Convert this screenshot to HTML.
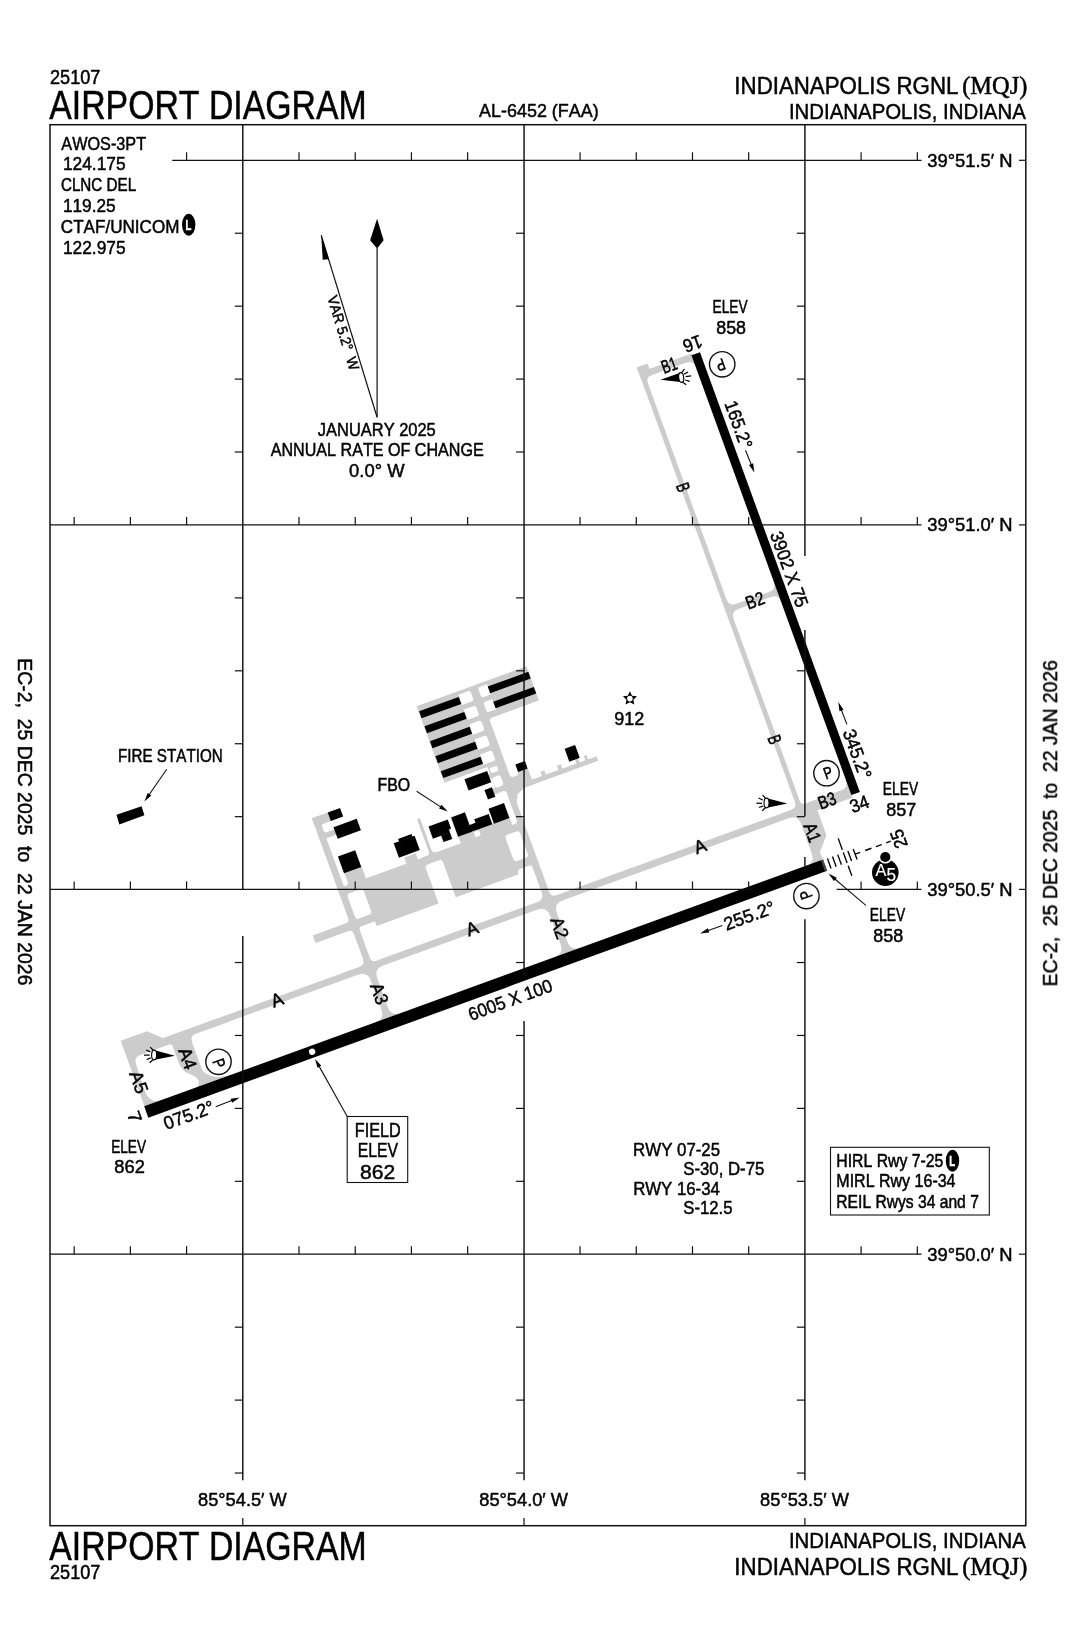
<!DOCTYPE html>
<html><head><meta charset="utf-8"><title>Airport Diagram</title>
<style>
html,body{margin:0;padding:0;background:#fff;}
svg{display:block;}
text{font-kerning:none;white-space:pre;}
</style></head><body>
<svg width="1076" height="1650" viewBox="0 0 1076 1650">
<rect x="0" y="0" width="1076" height="1650" fill="#fff"/>
<g opacity="0.999">
<g transform="translate(146.5,1111.8) rotate(-19.980)">
<rect x="30" y="-63.5" width="705" height="7" fill="#cccccc"/>
<path d="M0,-75.5 L28,-75.5 L41,-63.4 L110,-63.4 L110,-5 L0,-5 Z" fill="#cccccc"/>
<path d="M13.5,-55.6 L44.5,-55.5 Q46.9,-55.5 46.9,-53 L47.2,-32 Q48.5,-24.5 52.6,-21.7 Q58,-17.5 59.4,-13 Q60.2,-9.5 56,-4.5 L14.1,-4.5 L14.1,-5.9 Q6,-8.5 5.4,-20.2 L6.4,-47.5 Q6.6,-55.6 13.5,-55.6 Z" fill="#fff"/>
<path d="M73,-56.4 L112,-56.4 L112,-4.5 L93,-4.5 L91,-5.9 Q71,-7.5 66.6,-20 L66.6,-50 Q66.6,-56.4 73,-56.4 Z" fill="#fff"/>
<rect x="255.7" y="-219.4" width="6.8" height="214.4" fill="#cccccc"/>
<path d="M256.1,-63.1 L249.7,-63.1 L249.7,-63.5 Q255.7,-63.5 255.7,-69.5 L256.1,-69.5 Z" fill="#cccccc"/>
<path d="M262.1,-63.1 L267.5,-63.1 L267.5,-63.5 Q262.5,-63.5 262.5,-68.5 L262.1,-68.5 Z" fill="#cccccc"/>
<path d="M256.1,-56.9 L245.7,-56.9 L245.7,-56.5 Q255.7,-56.5 255.7,-46.5 L256.1,-46.5 Z" fill="#cccccc"/>
<path d="M262.1,-56.9 L272.5,-56.9 L272.5,-56.5 Q262.5,-56.5 262.5,-46.5 L262.1,-46.5 Z" fill="#cccccc"/>
<path d="M256.1,-5.5 L245.7,-5.5 L245.7,-5.9 Q255.7,-5.9 255.7,-15.9 L256.1,-15.9 Z" fill="#cccccc"/>
<path d="M262.1,-5.5 L272.5,-5.5 L272.5,-5.9 Q262.5,-5.9 262.5,-15.9 L262.1,-15.9 Z" fill="#cccccc"/>
<rect x="255.7" y="-219.4" width="24.3" height="9.1" fill="#cccccc"/>
<rect x="255.7" y="-201.2" width="19.3" height="5.7" fill="#cccccc"/>
<rect x="267.5" y="-157" width="18.5" height="14" fill="#cccccc"/>
<rect x="255.7" y="-144.3" width="90.8" height="8.3" fill="#cccccc"/>
<rect x="279.7" y="-144" width="66" height="48" fill="#cccccc"/>
<rect x="216.5" y="-109" width="64.5" height="8.2" fill="#cccccc"/>
<path d="M262.1,-136.4 L265.5,-136.4 L265.5,-136 Q262.5,-136 262.5,-133 L262.1,-133 Z" fill="#cccccc"/>
<path d="M280.1,-136.4 L276.7,-136.4 L276.7,-136 Q279.7,-136 279.7,-133 L280.1,-133 Z" fill="#cccccc"/>
<path d="M262.1,-108.6 L265.5,-108.6 L265.5,-109 Q262.5,-109 262.5,-112 L262.1,-112 Z" fill="#cccccc"/>
<path d="M280.1,-108.6 L276.7,-108.6 L276.7,-109 Q279.7,-109 279.7,-112 L280.1,-112 Z" fill="#cccccc"/>
<path d="M262.1,-143.9 L264.5,-143.9 L264.5,-144.3 Q262.5,-144.3 262.5,-146.3 L262.1,-146.3 Z" fill="#cccccc"/>
<path d="M267.9,-143.9 L265.5,-143.9 L265.5,-144.3 Q267.5,-144.3 267.5,-146.3 L267.9,-146.3 Z" fill="#cccccc"/>
<path d="M262.1,-210.7 L265,-210.7 L265,-210.3 Q262.5,-210.3 262.5,-207.8 L262.1,-207.8 Z" fill="#cccccc"/>
<path d="M262.1,-200.8 L265,-200.8 L265,-201.2 Q262.5,-201.2 262.5,-203.7 L262.1,-203.7 Z" fill="#cccccc"/>
<path d="M256.1,-108.6 L251.7,-108.6 L251.7,-109 Q255.7,-109 255.7,-113 L256.1,-113 Z" fill="#cccccc"/>
<path d="M256.1,-101.2 L251.7,-101.2 L251.7,-100.8 Q255.7,-100.8 255.7,-96.8 L256.1,-96.8 Z" fill="#cccccc"/>
<path d="M262.1,-101.2 L265.5,-101.2 L265.5,-100.8 Q262.5,-100.8 262.5,-97.8 L262.1,-97.8 Z" fill="#cccccc"/>
<rect x="345" y="-145" width="19.5" height="8.5" fill="#cccccc"/>
<rect x="364" y="-145" width="67" height="49" fill="#cccccc"/>
<rect x="387.3" y="-152.5" width="43.7" height="8" fill="#cccccc"/>
<rect x="354.2" y="-182.5" width="3.1" height="38.5" fill="#cccccc"/>
<rect x="329.2" y="-151" width="12.1" height="8" fill="#cccccc"/>
<path d="M345.6,-136.9 L349,-136.9 L349,-136.5 Q346,-136.5 346,-133.5 L345.6,-133.5 Z" fill="#cccccc"/>
<path d="M364.4,-136.9 L361,-136.9 L361,-136.5 Q364,-136.5 364,-133.5 L364.4,-133.5 Z" fill="#cccccc"/>
<path d="M356.9,-144.6 L361.3,-144.6 L361.3,-145 Q357.3,-145 357.3,-149 L356.9,-149 Z" fill="#cccccc"/>
<path d="M354.6,-143.9 L350.2,-143.9 L350.2,-144.3 Q354.2,-144.3 354.2,-148.3 L354.6,-148.3 Z" fill="#cccccc"/>
<rect x="430" y="-145" width="17" height="8" fill="#cccccc"/>
<rect x="430" y="-109.2" width="17" height="8.6" fill="#cccccc"/>
<path d="M430.6,-137.4 L434,-137.4 L434,-137 Q431,-137 431,-134 L430.6,-134 Z" fill="#cccccc"/>
<path d="M446.8,-137.4 L443.4,-137.4 L443.4,-137 Q446.4,-137 446.4,-134 L446.8,-134 Z" fill="#cccccc"/>
<path d="M430.6,-108.8 L434,-108.8 L434,-109.2 Q431,-109.2 431,-112.2 L430.6,-112.2 Z" fill="#cccccc"/>
<path d="M446.8,-108.8 L443.4,-108.8 L443.4,-109.2 Q446.4,-109.2 446.4,-112.2 L446.8,-112.2 Z" fill="#cccccc"/>
<path d="M430.6,-101 L433.5,-101 L433.5,-100.6 Q431,-100.6 431,-98.1 L430.6,-98.1 Z" fill="#cccccc"/>
<path d="M446.8,-101 L443.9,-101 L443.9,-100.6 Q446.4,-100.6 446.4,-98.1 L446.8,-98.1 Z" fill="#cccccc"/>
<rect x="447.7" y="-288.8" width="8.7" height="120.8" fill="#cccccc"/>
<rect x="446.4" y="-180" width="7.2" height="175" fill="#cccccc"/>
<path d="M453,-177 L466,-175.5 L456.6,-171.3 L453.6,-163 Z" fill="#cccccc"/>
<path d="M446.8,-63.1 L438.9,-63.1 L438.9,-63.5 Q446.4,-63.5 446.4,-71 L446.8,-71 Z" fill="#cccccc"/>
<path d="M453.2,-63.1 L459.6,-63.1 L459.6,-63.5 Q453.6,-63.5 453.6,-69.5 L453.2,-69.5 Z" fill="#cccccc"/>
<path d="M446.8,-56.9 L436.4,-56.9 L436.4,-56.5 Q446.4,-56.5 446.4,-46.5 L446.8,-46.5 Z" fill="#cccccc"/>
<path d="M453.2,-56.9 L463.6,-56.9 L463.6,-56.5 Q453.6,-56.5 453.6,-46.5 L453.2,-46.5 Z" fill="#cccccc"/>
<path d="M446.8,-5.5 L436.4,-5.5 L436.4,-5.9 Q446.4,-5.9 446.4,-15.9 L446.8,-15.9 Z" fill="#cccccc"/>
<path d="M453.2,-5.5 L463.6,-5.5 L463.6,-5.9 Q453.6,-5.9 453.6,-15.9 L453.2,-15.9 Z" fill="#cccccc"/>
<rect x="438.3" y="-207.5" width="9.7" height="63" fill="#cccccc"/>
<rect x="436.4" y="-200.4" width="11.6" height="4.6" fill="#cccccc"/>
<rect x="435.3" y="-185.2" width="12.7" height="6" fill="#cccccc"/>
<path d="M441.5,-205.7 L445.6,-205.7 Q447.6,-205.7 447.6,-203.7 L447.6,-202.2 Q447.6,-200.2 445.6,-200.2 L441.5,-200.2 Q439.5,-200.2 439.5,-202.2 L439.5,-203.7 Q439.5,-205.7 441.5,-205.7 Z" fill="#fff"/>
<path d="M441,-196 L444.9,-196 Q447.4,-196 447.4,-193.5 L447.4,-187.5 Q447.4,-185 444.9,-185 L441,-185 Q438.5,-185 438.5,-187.5 L438.5,-193.5 Q438.5,-196 441,-196 Z" fill="#fff"/>
<path d="M439.6,-179.4 L444.5,-179.4 Q447.5,-179.4 447.5,-176.4 L447.5,-147.5 Q447.5,-144.5 444.5,-144.5 L436.6,-144.5 Q436.6,-144.5 436.6,-144.5 L436.6,-176.4 Q436.6,-179.4 439.6,-179.4 Z" fill="#fff"/>
<rect x="387.3" y="-152.5" width="54.3" height="8" fill="#cccccc"/>
<path d="M403,-151 L408.6,-151 Q408.6,-151 408.6,-151 L408.6,-145.6 Q408.6,-145.6 408.6,-145.6 L403,-145.6 Q403,-145.6 403,-145.6 L403,-151 Q403,-151 403,-151 Z" fill="#fff"/>
<rect x="392.4" y="-288.8" width="55.6" height="81.3" fill="#cccccc"/>
<path d="M435.6,-285.5 L445.7,-285.5 Q448.2,-285.5 448.2,-283 L448.2,-277.1 Q448.2,-274.6 445.7,-274.6 L435.6,-274.6 Q435.6,-274.6 435.6,-274.6 L435.6,-285.5 Q435.6,-285.5 435.6,-285.5 Z" fill="#fff"/>
<path d="M435.6,-269.6 L445.7,-269.6 Q448.2,-269.6 448.2,-267.1 L448.2,-261.2 Q448.2,-258.7 445.7,-258.7 L435.6,-258.7 Q435.6,-258.7 435.6,-258.7 L435.6,-269.6 Q435.6,-269.6 435.6,-269.6 Z" fill="#fff"/>
<path d="M435.6,-253.7 L445.7,-253.7 Q448.2,-253.7 448.2,-251.2 L448.2,-245.3 Q448.2,-242.8 445.7,-242.8 L435.6,-242.8 Q435.6,-242.8 435.6,-242.8 L435.6,-253.7 Q435.6,-253.7 435.6,-253.7 Z" fill="#fff"/>
<path d="M435.6,-237.8 L445.7,-237.8 Q448.2,-237.8 448.2,-235.3 L448.2,-229.4 Q448.2,-226.9 445.7,-226.9 L435.6,-226.9 Q435.6,-226.9 435.6,-226.9 L435.6,-237.8 Q435.6,-237.8 435.6,-237.8 Z" fill="#fff"/>
<path d="M435.6,-221.9 L445.7,-221.9 Q448.2,-221.9 448.2,-219.4 L448.2,-213.5 Q448.2,-211 445.7,-211 L435.6,-211 Q435.6,-211 435.6,-211 L435.6,-221.9 Q435.6,-221.9 435.6,-221.9 Z" fill="#fff"/>
<rect x="456" y="-288.8" width="53.3" height="36.3" fill="#cccccc"/>
<path d="M458.9,-285.5 L466,-285.5 Q466,-285.5 466,-285.5 L466,-274.6 Q466,-274.6 466,-274.6 L458.9,-274.6 Q456.4,-274.6 456.4,-277.1 L456.4,-283 Q456.4,-285.5 458.9,-285.5 Z" fill="#fff"/>
<path d="M458.9,-269.6 L466,-269.6 Q466,-269.6 466,-269.6 L466,-258.7 Q466,-258.7 466,-258.7 L458.9,-258.7 Q456.4,-258.7 456.4,-261.2 L456.4,-267.1 Q456.4,-269.6 458.9,-269.6 Z" fill="#fff"/>
<path d="M456,-252.9 L459.4,-252.9 L459.4,-252.5 Q456.4,-252.5 456.4,-249.5 L456,-249.5 Z" fill="#cccccc"/>
<rect x="456" y="-189.5" width="9.8" height="14" fill="#cccccc"/>
<rect x="465.3" y="-192.6" width="10.4" height="17.1" fill="#cccccc"/>
<path d="M456,-189.1 L459.4,-189.1 L459.4,-189.5 Q456.4,-189.5 456.4,-192.5 L456,-192.5 Z" fill="#cccccc"/>
<path d="M465.7,-189.1 L463.3,-189.1 L463.3,-189.5 Q465.3,-189.5 465.3,-191.5 L465.7,-191.5 Z" fill="#cccccc"/>
<rect x="465" y="-180.4" width="79.5" height="4.9" fill="#cccccc"/>
<rect x="486.5" y="-185" width="4" height="5" fill="#cccccc"/>
<rect x="504" y="-185" width="4" height="5" fill="#cccccc"/>
<rect x="523" y="-185" width="3.5" height="5" fill="#cccccc"/>
<rect x="532.5" y="-185" width="3" height="5" fill="#cccccc"/>
<rect x="715.2" y="-532" width="5" height="474" fill="#cccccc"/>
<rect x="715.2" y="-532" width="11.4" height="6" fill="#cccccc"/>
<rect x="715.2" y="-526.3" width="56.3" height="6.6" fill="#cccccc"/>
<rect x="720" y="-275.8" width="51.5" height="5.4" fill="#cccccc"/>
<rect x="720" y="-64.7" width="51" height="10.7" fill="#cccccc"/>
<path d="M713.5,-57 L733.5,-57 L733.5,-27.6 L721.5,-13.8 L722,-5 L713.5,-5 Z" fill="#cccccc"/>
<path d="M713.9,-5.5 L704.5,-5.5 L704.5,-5.9 Q713.5,-5.9 713.5,-14.9 L713.9,-14.9 Z" fill="#cccccc"/>
<path d="M713.9,-56.9 L704.5,-56.9 L704.5,-56.5 Q713.5,-56.5 713.5,-47.5 L713.9,-47.5 Z" fill="#cccccc"/>
<path d="M715.6,-63.1 L709.2,-63.1 L709.2,-63.5 Q715.2,-63.5 715.2,-69.5 L715.6,-69.5 Z" fill="#cccccc"/>
<path d="M719.8,-64.3 L724.2,-64.3 L724.2,-64.7 Q720.2,-64.7 720.2,-68.7 L719.8,-68.7 Z" fill="#cccccc"/>
<path d="M771.2,-64.3 L762.8,-64.3 L762.8,-64.7 Q770.8,-64.7 770.8,-72.7 L771.2,-72.7 Z" fill="#cccccc"/>
<path d="M719.8,-520.1 L726.2,-520.1 L726.2,-519.7 Q720.2,-519.7 720.2,-513.7 L719.8,-513.7 Z" fill="#cccccc"/>
<path d="M771.2,-520.1 L762.8,-520.1 L762.8,-519.7 Q770.8,-519.7 770.8,-511.7 L771.2,-511.7 Z" fill="#cccccc"/>
<path d="M719.8,-275.4 L728.2,-275.4 L728.2,-275.8 Q720.2,-275.8 720.2,-283.8 L719.8,-283.8 Z" fill="#cccccc"/>
<path d="M719.8,-270.8 L728.2,-270.8 L728.2,-270.4 Q720.2,-270.4 720.2,-262.4 L719.8,-262.4 Z" fill="#cccccc"/>
<path d="M771.2,-275.4 L762.8,-275.4 L762.8,-275.8 Q770.8,-275.8 770.8,-283.8 L771.2,-283.8 Z" fill="#cccccc"/>
<path d="M771.2,-270.8 L762.8,-270.8 L762.8,-270.4 Q770.8,-270.4 770.8,-262.4 L771.2,-262.4 Z" fill="#cccccc"/>
<rect x="393" y="-283.2" width="42.2" height="7.4" fill="#000"/>
<rect x="393" y="-267.3" width="42.2" height="7.4" fill="#000"/>
<rect x="393" y="-251.4" width="42.2" height="7.4" fill="#000"/>
<rect x="393" y="-235.5" width="42.2" height="7.4" fill="#000"/>
<rect x="393" y="-219.6" width="42.2" height="7.4" fill="#000"/>
<rect x="466" y="-283.1" width="43.2" height="7.1" fill="#000"/>
<rect x="466" y="-267" width="43.2" height="7" fill="#000"/>
<rect x="272.6" y="-219.4" width="13.1" height="9.1" fill="#000"/>
<rect x="273" y="-203.6" width="24.7" height="12.3" fill="#000"/>
<rect x="267.1" y="-174.5" width="18.4" height="17.9" fill="#000"/>
<rect x="324.1" y="-167.9" width="22.2" height="15.3" fill="#000"/>
<rect x="329.7" y="-170.5" width="14.3" height="3" fill="#000"/>
<rect x="362.5" y="-171.7" width="20.5" height="9.7" fill="#000"/>
<rect x="362.5" y="-162.5" width="18.2" height="3.7" fill="#000"/>
<rect x="371.3" y="-159" width="9.3" height="7" fill="#000"/>
<rect x="386.8" y="-172.6" width="14.8" height="20.5" fill="#000"/>
<rect x="401" y="-159.2" width="7.5" height="7.1" fill="#000"/>
<rect x="408" y="-163" width="15.3" height="10.9" fill="#000"/>
<rect x="425" y="-168" width="16.5" height="15.9" fill="#000"/>
<rect x="412.5" y="-204" width="24.1" height="12" fill="#000"/>
<rect x="427.6" y="-187" width="7.9" height="10.2" fill="#000"/>
<rect x="465.3" y="-200.3" width="10.2" height="7.9" fill="#000"/>
<rect x="517" y="-198.2" width="11.1" height="13.6" fill="#000"/>
<rect x="-0.3" y="-5.9" width="722.4" height="12" fill="#000"/>
<rect x="770.65" y="-524.7" width="9.05" height="467.9" fill="#000"/>
<circle cx="176.2" cy="0.1" r="3.2" fill="#fff"/>
<line x1="720.4" y1="-5.9" x2="720.4" y2="5.9" stroke="#fff" stroke-width="0.3"/>
<line x1="721.4" y1="-5.9" x2="721.4" y2="5.9" stroke="#fff" stroke-width="0.3"/>
</g>
<polygon points="116.5,814.7 141.6,806.3 144.4,815.2 119.3,824.4" fill="#000"/>
<rect x="50" y="124.7" width="975.8" height="1401" fill="none" stroke="#111" stroke-width="1.5"/>
<line x1="172.2" y1="160.3" x2="921.5" y2="160.3" stroke="#111" stroke-width="1.2"/>
<line x1="50" y1="524.9" x2="921.5" y2="524.9" stroke="#111" stroke-width="1.2"/>
<line x1="50" y1="889.4" x2="752" y2="889.4" stroke="#111" stroke-width="1.2"/>
<line x1="836.6" y1="889.4" x2="921.5" y2="889.4" stroke="#111" stroke-width="1.2"/>
<line x1="50" y1="1254.2" x2="921.5" y2="1254.2" stroke="#111" stroke-width="1.2"/>
<line x1="242.8" y1="124.7" x2="242.8" y2="890" stroke="#111" stroke-width="1.45"/>
<line x1="242.8" y1="936" x2="242.8" y2="1480.2" stroke="#111" stroke-width="1.45"/>
<line x1="524.05" y1="124.7" x2="524.05" y2="975" stroke="#111" stroke-width="1.45"/>
<line x1="524.05" y1="1021.1" x2="524.05" y2="1480.2" stroke="#111" stroke-width="1.45"/>
<line x1="804.9" y1="124.7" x2="804.9" y2="556" stroke="#111" stroke-width="1.45"/>
<line x1="804.9" y1="630" x2="804.9" y2="816.3" stroke="#111" stroke-width="1.45"/>
<line x1="804.9" y1="857" x2="804.9" y2="866" stroke="#111" stroke-width="1.45"/>
<line x1="804.9" y1="919.3" x2="804.9" y2="1480.2" stroke="#111" stroke-width="1.45"/>
<line x1="186.59" y1="152.3" x2="186.59" y2="160.3" stroke="#111" stroke-width="1.2"/>
<line x1="299.01" y1="152.3" x2="299.01" y2="160.3" stroke="#111" stroke-width="1.2"/>
<line x1="355.22" y1="152.3" x2="355.22" y2="160.3" stroke="#111" stroke-width="1.2"/>
<line x1="411.43" y1="152.3" x2="411.43" y2="160.3" stroke="#111" stroke-width="1.2"/>
<line x1="467.64" y1="152.3" x2="467.64" y2="160.3" stroke="#111" stroke-width="1.2"/>
<line x1="580.06" y1="152.3" x2="580.06" y2="160.3" stroke="#111" stroke-width="1.2"/>
<line x1="636.27" y1="152.3" x2="636.27" y2="160.3" stroke="#111" stroke-width="1.2"/>
<line x1="692.48" y1="152.3" x2="692.48" y2="160.3" stroke="#111" stroke-width="1.2"/>
<line x1="748.69" y1="152.3" x2="748.69" y2="160.3" stroke="#111" stroke-width="1.2"/>
<line x1="861.11" y1="152.3" x2="861.11" y2="160.3" stroke="#111" stroke-width="1.2"/>
<line x1="917.32" y1="152.3" x2="917.32" y2="160.3" stroke="#111" stroke-width="1.2"/>
<line x1="74.17" y1="516.9" x2="74.17" y2="524.9" stroke="#111" stroke-width="1.2"/>
<line x1="130.38" y1="516.9" x2="130.38" y2="524.9" stroke="#111" stroke-width="1.2"/>
<line x1="186.59" y1="516.9" x2="186.59" y2="524.9" stroke="#111" stroke-width="1.2"/>
<line x1="299.01" y1="516.9" x2="299.01" y2="524.9" stroke="#111" stroke-width="1.2"/>
<line x1="355.22" y1="516.9" x2="355.22" y2="524.9" stroke="#111" stroke-width="1.2"/>
<line x1="411.43" y1="516.9" x2="411.43" y2="524.9" stroke="#111" stroke-width="1.2"/>
<line x1="467.64" y1="516.9" x2="467.64" y2="524.9" stroke="#111" stroke-width="1.2"/>
<line x1="580.06" y1="516.9" x2="580.06" y2="524.9" stroke="#111" stroke-width="1.2"/>
<line x1="636.27" y1="516.9" x2="636.27" y2="524.9" stroke="#111" stroke-width="1.2"/>
<line x1="692.48" y1="516.9" x2="692.48" y2="524.9" stroke="#111" stroke-width="1.2"/>
<line x1="748.69" y1="516.9" x2="748.69" y2="524.9" stroke="#111" stroke-width="1.2"/>
<line x1="861.11" y1="516.9" x2="861.11" y2="524.9" stroke="#111" stroke-width="1.2"/>
<line x1="917.32" y1="516.9" x2="917.32" y2="524.9" stroke="#111" stroke-width="1.2"/>
<line x1="74.17" y1="881.4" x2="74.17" y2="889.4" stroke="#111" stroke-width="1.2"/>
<line x1="130.38" y1="881.4" x2="130.38" y2="889.4" stroke="#111" stroke-width="1.2"/>
<line x1="186.59" y1="881.4" x2="186.59" y2="889.4" stroke="#111" stroke-width="1.2"/>
<line x1="299.01" y1="881.4" x2="299.01" y2="889.4" stroke="#111" stroke-width="1.2"/>
<line x1="355.22" y1="881.4" x2="355.22" y2="889.4" stroke="#111" stroke-width="1.2"/>
<line x1="411.43" y1="881.4" x2="411.43" y2="889.4" stroke="#111" stroke-width="1.2"/>
<line x1="467.64" y1="881.4" x2="467.64" y2="889.4" stroke="#111" stroke-width="1.2"/>
<line x1="580.06" y1="881.4" x2="580.06" y2="889.4" stroke="#111" stroke-width="1.2"/>
<line x1="636.27" y1="881.4" x2="636.27" y2="889.4" stroke="#111" stroke-width="1.2"/>
<line x1="692.48" y1="881.4" x2="692.48" y2="889.4" stroke="#111" stroke-width="1.2"/>
<line x1="748.69" y1="881.4" x2="748.69" y2="889.4" stroke="#111" stroke-width="1.2"/>
<line x1="861.11" y1="881.4" x2="861.11" y2="889.4" stroke="#111" stroke-width="1.2"/>
<line x1="917.32" y1="881.4" x2="917.32" y2="889.4" stroke="#111" stroke-width="1.2"/>
<line x1="74.17" y1="1246.2" x2="74.17" y2="1254.2" stroke="#111" stroke-width="1.2"/>
<line x1="130.38" y1="1246.2" x2="130.38" y2="1254.2" stroke="#111" stroke-width="1.2"/>
<line x1="186.59" y1="1246.2" x2="186.59" y2="1254.2" stroke="#111" stroke-width="1.2"/>
<line x1="299.01" y1="1246.2" x2="299.01" y2="1254.2" stroke="#111" stroke-width="1.2"/>
<line x1="355.22" y1="1246.2" x2="355.22" y2="1254.2" stroke="#111" stroke-width="1.2"/>
<line x1="411.43" y1="1246.2" x2="411.43" y2="1254.2" stroke="#111" stroke-width="1.2"/>
<line x1="467.64" y1="1246.2" x2="467.64" y2="1254.2" stroke="#111" stroke-width="1.2"/>
<line x1="580.06" y1="1246.2" x2="580.06" y2="1254.2" stroke="#111" stroke-width="1.2"/>
<line x1="636.27" y1="1246.2" x2="636.27" y2="1254.2" stroke="#111" stroke-width="1.2"/>
<line x1="692.48" y1="1246.2" x2="692.48" y2="1254.2" stroke="#111" stroke-width="1.2"/>
<line x1="748.69" y1="1246.2" x2="748.69" y2="1254.2" stroke="#111" stroke-width="1.2"/>
<line x1="861.11" y1="1246.2" x2="861.11" y2="1254.2" stroke="#111" stroke-width="1.2"/>
<line x1="917.32" y1="1246.2" x2="917.32" y2="1254.2" stroke="#111" stroke-width="1.2"/>
<line x1="234.8" y1="233.23" x2="242.8" y2="233.23" stroke="#111" stroke-width="1.2"/>
<line x1="234.8" y1="306.16" x2="242.8" y2="306.16" stroke="#111" stroke-width="1.2"/>
<line x1="234.8" y1="379.09" x2="242.8" y2="379.09" stroke="#111" stroke-width="1.2"/>
<line x1="234.8" y1="452.02" x2="242.8" y2="452.02" stroke="#111" stroke-width="1.2"/>
<line x1="234.8" y1="597.88" x2="242.8" y2="597.88" stroke="#111" stroke-width="1.2"/>
<line x1="234.8" y1="670.81" x2="242.8" y2="670.81" stroke="#111" stroke-width="1.2"/>
<line x1="234.8" y1="743.74" x2="242.8" y2="743.74" stroke="#111" stroke-width="1.2"/>
<line x1="234.8" y1="816.67" x2="242.8" y2="816.67" stroke="#111" stroke-width="1.2"/>
<line x1="234.8" y1="962.53" x2="242.8" y2="962.53" stroke="#111" stroke-width="1.2"/>
<line x1="234.8" y1="1035.46" x2="242.8" y2="1035.46" stroke="#111" stroke-width="1.2"/>
<line x1="234.8" y1="1108.39" x2="242.8" y2="1108.39" stroke="#111" stroke-width="1.2"/>
<line x1="234.8" y1="1181.32" x2="242.8" y2="1181.32" stroke="#111" stroke-width="1.2"/>
<line x1="234.8" y1="1327.18" x2="242.8" y2="1327.18" stroke="#111" stroke-width="1.2"/>
<line x1="234.8" y1="1400.11" x2="242.8" y2="1400.11" stroke="#111" stroke-width="1.2"/>
<line x1="234.8" y1="1473.04" x2="242.8" y2="1473.04" stroke="#111" stroke-width="1.2"/>
<line x1="516.05" y1="233.23" x2="524.05" y2="233.23" stroke="#111" stroke-width="1.2"/>
<line x1="516.05" y1="306.16" x2="524.05" y2="306.16" stroke="#111" stroke-width="1.2"/>
<line x1="516.05" y1="379.09" x2="524.05" y2="379.09" stroke="#111" stroke-width="1.2"/>
<line x1="516.05" y1="452.02" x2="524.05" y2="452.02" stroke="#111" stroke-width="1.2"/>
<line x1="516.05" y1="597.88" x2="524.05" y2="597.88" stroke="#111" stroke-width="1.2"/>
<line x1="516.05" y1="670.81" x2="524.05" y2="670.81" stroke="#111" stroke-width="1.2"/>
<line x1="516.05" y1="743.74" x2="524.05" y2="743.74" stroke="#111" stroke-width="1.2"/>
<line x1="516.05" y1="816.67" x2="524.05" y2="816.67" stroke="#111" stroke-width="1.2"/>
<line x1="516.05" y1="962.53" x2="524.05" y2="962.53" stroke="#111" stroke-width="1.2"/>
<line x1="516.05" y1="1035.46" x2="524.05" y2="1035.46" stroke="#111" stroke-width="1.2"/>
<line x1="516.05" y1="1108.39" x2="524.05" y2="1108.39" stroke="#111" stroke-width="1.2"/>
<line x1="516.05" y1="1181.32" x2="524.05" y2="1181.32" stroke="#111" stroke-width="1.2"/>
<line x1="516.05" y1="1327.18" x2="524.05" y2="1327.18" stroke="#111" stroke-width="1.2"/>
<line x1="516.05" y1="1400.11" x2="524.05" y2="1400.11" stroke="#111" stroke-width="1.2"/>
<line x1="516.05" y1="1473.04" x2="524.05" y2="1473.04" stroke="#111" stroke-width="1.2"/>
<line x1="796.9" y1="233.23" x2="804.9" y2="233.23" stroke="#111" stroke-width="1.2"/>
<line x1="796.9" y1="306.16" x2="804.9" y2="306.16" stroke="#111" stroke-width="1.2"/>
<line x1="796.9" y1="379.09" x2="804.9" y2="379.09" stroke="#111" stroke-width="1.2"/>
<line x1="796.9" y1="452.02" x2="804.9" y2="452.02" stroke="#111" stroke-width="1.2"/>
<line x1="796.9" y1="597.88" x2="804.9" y2="597.88" stroke="#111" stroke-width="1.2"/>
<line x1="796.9" y1="670.81" x2="804.9" y2="670.81" stroke="#111" stroke-width="1.2"/>
<line x1="796.9" y1="743.74" x2="804.9" y2="743.74" stroke="#111" stroke-width="1.2"/>
<line x1="796.9" y1="816.67" x2="804.9" y2="816.67" stroke="#111" stroke-width="1.2"/>
<line x1="796.9" y1="962.53" x2="804.9" y2="962.53" stroke="#111" stroke-width="1.2"/>
<line x1="796.9" y1="1035.46" x2="804.9" y2="1035.46" stroke="#111" stroke-width="1.2"/>
<line x1="796.9" y1="1108.39" x2="804.9" y2="1108.39" stroke="#111" stroke-width="1.2"/>
<line x1="796.9" y1="1181.32" x2="804.9" y2="1181.32" stroke="#111" stroke-width="1.2"/>
<line x1="796.9" y1="1327.18" x2="804.9" y2="1327.18" stroke="#111" stroke-width="1.2"/>
<line x1="796.9" y1="1400.11" x2="804.9" y2="1400.11" stroke="#111" stroke-width="1.2"/>
<line x1="796.9" y1="1473.04" x2="804.9" y2="1473.04" stroke="#111" stroke-width="1.2"/>
<line x1="1019" y1="160.3" x2="1026" y2="160.3" stroke="#111" stroke-width="1.2"/>
<line x1="1019" y1="524.9" x2="1026" y2="524.9" stroke="#111" stroke-width="1.2"/>
<line x1="1019" y1="889.4" x2="1026" y2="889.4" stroke="#111" stroke-width="1.2"/>
<line x1="1019" y1="1254.2" x2="1026" y2="1254.2" stroke="#111" stroke-width="1.2"/>
<line x1="242.8" y1="1518" x2="242.8" y2="1525.4" stroke="#111" stroke-width="1.2"/>
<line x1="524.05" y1="1518" x2="524.05" y2="1525.4" stroke="#111" stroke-width="1.2"/>
<line x1="804.9" y1="1518" x2="804.9" y2="1525.4" stroke="#111" stroke-width="1.2"/>
<text transform="translate(50.90,84.30) rotate(0.00) scale(0.9380,1)" x="-0.97" y="0" font-family='"Liberation Sans", sans-serif' font-size="19.33" fill="#000" stroke="#000" stroke-width="0.50" stroke-linejoin="round">25107</text>
<text transform="translate(49.30,118.50) rotate(0.00) scale(0.8369,1)" x="-0.08" y="0" font-family='"Liberation Sans", sans-serif' font-size="40.41" fill="#000" stroke="#000" stroke-width="0.52" stroke-linejoin="round">AIRPORT DIAGRAM</text>
<text transform="translate(479.10,116.80) rotate(0.00) scale(0.9422,1)" x="-0.04" y="0" font-family='"Liberation Sans", sans-serif' font-size="19.04" fill="#000" stroke="#000" stroke-width="0.49" stroke-linejoin="round">AL-6452 (FAA)</text>
<text transform="translate(736.40,93.70) rotate(0.00) scale(0.9078,1)" x="-2.27" y="0" font-family='"Liberation Sans", sans-serif' font-size="24.56" fill="#000" stroke="#000" stroke-width="0.50" stroke-linejoin="round">INDIANAPOLIS RGNL</text>
<text transform="translate(963.30,93.70) rotate(0.00) scale(0.9637,1)" x="-1.11" y="0" font-family='"Liberation Serif", serif' font-size="25.35" fill="#000" stroke="#000" stroke-width="0.51" stroke-linejoin="round">(MQJ)</text>
<text transform="translate(790.80,118.60) rotate(0.00) scale(0.8879,1)" x="-2.12" y="0" font-family='"Liberation Sans", sans-serif' font-size="22.97" fill="#000" stroke="#000" stroke-width="0.51" stroke-linejoin="round">INDIANAPOLIS, INDIANA</text>
<text transform="translate(49.30,1559.70) rotate(0.00) scale(0.8369,1)" x="-0.08" y="0" font-family='"Liberation Sans", sans-serif' font-size="40.41" fill="#000" stroke="#000" stroke-width="0.52" stroke-linejoin="round">AIRPORT DIAGRAM</text>
<text transform="translate(50.90,1578.70) rotate(0.00) scale(0.9380,1)" x="-0.97" y="0" font-family='"Liberation Sans", sans-serif' font-size="19.33" fill="#000" stroke="#000" stroke-width="0.50" stroke-linejoin="round">25107</text>
<text transform="translate(790.80,1547.70) rotate(0.00) scale(0.8879,1)" x="-2.12" y="0" font-family='"Liberation Sans", sans-serif' font-size="22.97" fill="#000" stroke="#000" stroke-width="0.51" stroke-linejoin="round">INDIANAPOLIS, INDIANA</text>
<text transform="translate(736.40,1574.50) rotate(0.00) scale(0.9078,1)" x="-2.27" y="0" font-family='"Liberation Sans", sans-serif' font-size="24.56" fill="#000" stroke="#000" stroke-width="0.50" stroke-linejoin="round">INDIANAPOLIS RGNL</text>
<text transform="translate(963.30,1574.50) rotate(0.00) scale(0.9637,1)" x="-1.11" y="0" font-family='"Liberation Serif", serif' font-size="25.35" fill="#000" stroke="#000" stroke-width="0.51" stroke-linejoin="round">(MQJ)</text>
<text transform="translate(61.40,149.70) rotate(0.00) scale(0.8927,1)" x="-0.04" y="0" font-family='"Liberation Sans", sans-serif' font-size="18.17" fill="#000" stroke="#000" stroke-width="0.51" stroke-linejoin="round">AWOS-3PT</text>
<text transform="translate(64.20,170.30) rotate(0.00) scale(0.9555,1)" x="-1.38" y="0" font-family='"Liberation Sans", sans-serif' font-size="18.17" fill="#000" stroke="#000" stroke-width="0.49" stroke-linejoin="round">124.175</text>
<text transform="translate(61.70,191.20) rotate(0.00) scale(0.8366,1)" x="-0.92" y="0" font-family='"Liberation Sans", sans-serif' font-size="18.17" fill="#000" stroke="#000" stroke-width="0.52" stroke-linejoin="round">CLNC DEL</text>
<text transform="translate(64.20,211.60) rotate(0.00) scale(0.9490,1)" x="-1.38" y="0" font-family='"Liberation Sans", sans-serif' font-size="18.17" fill="#000" stroke="#000" stroke-width="0.49" stroke-linejoin="round">119.25</text>
<text transform="translate(61.70,232.60) rotate(0.00) scale(0.9406,1)" x="-0.92" y="0" font-family='"Liberation Sans", sans-serif' font-size="18.17" fill="#000" stroke="#000" stroke-width="0.49" stroke-linejoin="round">CTAF/UNICOM</text>
<text transform="translate(64.20,253.50) rotate(0.00) scale(0.9555,1)" x="-1.38" y="0" font-family='"Liberation Sans", sans-serif' font-size="18.17" fill="#000" stroke="#000" stroke-width="0.49" stroke-linejoin="round">122.975</text>
<ellipse cx="188.7" cy="224.8" rx="6.7" ry="11" fill="#000"/>
<text transform="translate(186.20,229.80) rotate(0.00) scale(0.6635,1)" x="-0.96" y="0" font-family='"Liberation Sans", sans-serif' font-size="14.39" font-weight="bold" fill="#fff" stroke="#fff" stroke-width="0.58" stroke-linejoin="round">L</text>
<text transform="translate(928.00,166.80) rotate(0.00) scale(1.0037,1)" x="-0.70" y="0" font-family='"Liberation Sans", sans-serif' font-size="18.31" fill="#000" stroke="#000" stroke-width="0.48" stroke-linejoin="round">39°51.5′ N</text>
<text transform="translate(928.00,531.40) rotate(0.00) scale(1.0037,1)" x="-0.70" y="0" font-family='"Liberation Sans", sans-serif' font-size="18.31" fill="#000" stroke="#000" stroke-width="0.48" stroke-linejoin="round">39°51.0′ N</text>
<text transform="translate(928.00,895.90) rotate(0.00) scale(1.0037,1)" x="-0.70" y="0" font-family='"Liberation Sans", sans-serif' font-size="18.31" fill="#000" stroke="#000" stroke-width="0.48" stroke-linejoin="round">39°50.5′ N</text>
<text transform="translate(928.00,1260.70) rotate(0.00) scale(1.0037,1)" x="-0.70" y="0" font-family='"Liberation Sans", sans-serif' font-size="18.31" fill="#000" stroke="#000" stroke-width="0.48" stroke-linejoin="round">39°50.0′ N</text>
<text transform="translate(242.80,1505.50) rotate(0.00) scale(0.9889,1)" x="-45.30" y="0" font-family='"Liberation Sans", sans-serif' font-size="18.46" fill="#000" stroke="#000" stroke-width="0.48" stroke-linejoin="round">85°54.5′ W</text>
<text transform="translate(524.05,1505.50) rotate(0.00) scale(0.9889,1)" x="-45.30" y="0" font-family='"Liberation Sans", sans-serif' font-size="18.46" fill="#000" stroke="#000" stroke-width="0.48" stroke-linejoin="round">85°54.0′ W</text>
<text transform="translate(804.90,1505.50) rotate(0.00) scale(0.9889,1)" x="-45.30" y="0" font-family='"Liberation Sans", sans-serif' font-size="18.46" fill="#000" stroke="#000" stroke-width="0.48" stroke-linejoin="round">85°53.5′ W</text>
<text transform="translate(318.10,435.50) rotate(0.00) scale(0.8849,1)" x="-0.29" y="0" font-family='"Liberation Sans", sans-serif' font-size="18.60" fill="#000" stroke="#000" stroke-width="0.51" stroke-linejoin="round">JANUARY 2025</text>
<text transform="translate(270.70,455.80) rotate(0.00) scale(0.8671,1)" x="-0.04" y="0" font-family='"Liberation Sans", sans-serif' font-size="18.60" fill="#000" stroke="#000" stroke-width="0.51" stroke-linejoin="round">ANNUAL RATE OF CHANGE</text>
<text transform="translate(349.80,476.60) rotate(0.00) scale(0.9902,1)" x="-0.73" y="0" font-family='"Liberation Sans", sans-serif' font-size="18.60" fill="#000" stroke="#000" stroke-width="0.48" stroke-linejoin="round">0.0° W</text>
<text transform="translate(327.20,297.60) rotate(72.90) scale(0.9433,1)" x="-0.06" y="0" font-family='"Liberation Sans", sans-serif' font-size="14.54" fill="#000" stroke="#000" stroke-width="0.49" stroke-linejoin="round">VAR 5.2°  W</text>
<line x1="377.1" y1="248" x2="377.1" y2="417.3" stroke="#111" stroke-width="1.2"/>
<path d="M377.1,218.7 L383.6,240.3 L377.1,248.5 L370.1,240.3 Z" fill="#000"/>
<line x1="377.1" y1="417.3" x2="321.2" y2="235.1" stroke="#111" stroke-width="1.2"/>
<path d="M321.2,235.1 L322.7,259.8 L328.9,259.2 Z" fill="#000"/>
<text transform="translate(17.50,659.80) rotate(90.00) scale(0.9222,1)" x="-1.73" y="0" font-family='"Liberation Sans", sans-serif' font-size="21.08" fill="#000" stroke="#000" stroke-width="0.50" stroke-linejoin="round">EC-2,  25 DEC 2025  to  22 JAN 2026</text>
<text transform="translate(1057.10,984.80) rotate(-90.00) scale(0.9393,1)" x="-1.69" y="0" font-family='"Liberation Sans", sans-serif' font-size="20.64" fill="#000" stroke="#000" stroke-width="0.50" stroke-linejoin="round">EC-2,  25 DEC 2025  to  22 JAN 2026</text>
<text transform="translate(119.30,762.20) rotate(0.00) scale(0.8176,1)" x="-1.53" y="0" font-family='"Liberation Sans", sans-serif' font-size="18.60" fill="#000" stroke="#000" stroke-width="0.53" stroke-linejoin="round">FIRE STATION</text>
<text transform="translate(378.80,791.30) rotate(0.00) scale(0.8746,1)" x="-1.49" y="0" font-family='"Liberation Sans", sans-serif' font-size="18.17" fill="#000" stroke="#000" stroke-width="0.51" stroke-linejoin="round">FBO</text>
<text transform="translate(615.10,725.00) rotate(0.00) scale(0.9532,1)" x="-0.89" y="0" font-family='"Liberation Sans", sans-serif' font-size="18.90" fill="#000" stroke="#000" stroke-width="0.49" stroke-linejoin="round">912</text>
<text transform="translate(713.70,313.30) rotate(0.00) scale(0.7715,1)" x="-1.45" y="0" font-family='"Liberation Sans", sans-serif' font-size="17.73" fill="#000" stroke="#000" stroke-width="0.54" stroke-linejoin="round">ELEV</text>
<text transform="translate(717.00,334.00) rotate(0.00) scale(1.0055,1)" x="-0.77" y="0" font-family='"Liberation Sans", sans-serif' font-size="17.73" fill="#000" stroke="#000" stroke-width="0.48" stroke-linejoin="round">858</text>
<text transform="translate(883.90,795.40) rotate(0.00) scale(0.7806,1)" x="-1.45" y="0" font-family='"Liberation Sans", sans-serif' font-size="17.73" fill="#000" stroke="#000" stroke-width="0.54" stroke-linejoin="round">ELEV</text>
<text transform="translate(886.90,815.90) rotate(0.00) scale(1.0006,1)" x="-0.78" y="0" font-family='"Liberation Sans", sans-serif' font-size="18.02" fill="#000" stroke="#000" stroke-width="0.48" stroke-linejoin="round">857</text>
<text transform="translate(871.00,921.00) rotate(0.00) scale(0.7806,1)" x="-1.45" y="0" font-family='"Liberation Sans", sans-serif' font-size="17.73" fill="#000" stroke="#000" stroke-width="0.54" stroke-linejoin="round">ELEV</text>
<text transform="translate(874.00,942.00) rotate(0.00) scale(0.9963,1)" x="-0.78" y="0" font-family='"Liberation Sans", sans-serif' font-size="18.02" fill="#000" stroke="#000" stroke-width="0.48" stroke-linejoin="round">858</text>
<text transform="translate(112.30,1152.50) rotate(0.00) scale(0.7629,1)" x="-1.47" y="0" font-family='"Liberation Sans", sans-serif' font-size="17.88" fill="#000" stroke="#000" stroke-width="0.54" stroke-linejoin="round">ELEV</text>
<text transform="translate(115.10,1173.00) rotate(0.00) scale(1.0066,1)" x="-0.79" y="0" font-family='"Liberation Sans", sans-serif' font-size="18.17" fill="#000" stroke="#000" stroke-width="0.48" stroke-linejoin="round">862</text>
<text transform="translate(356.10,1136.50) rotate(0.00) scale(0.8017,1)" x="-1.66" y="0" font-family='"Liberation Sans", sans-serif' font-size="20.20" fill="#000" stroke="#000" stroke-width="0.53" stroke-linejoin="round">FIELD</text>
<text transform="translate(359.00,1157.10) rotate(0.00) scale(0.7757,1)" x="-1.67" y="0" font-family='"Liberation Sans", sans-serif' font-size="20.35" fill="#000" stroke="#000" stroke-width="0.54" stroke-linejoin="round">ELEV</text>
<text transform="translate(360.90,1179.00) rotate(0.00) scale(1.0143,1)" x="-0.90" y="0" font-family='"Liberation Sans", sans-serif' font-size="20.79" fill="#000" stroke="#000" stroke-width="0.48" stroke-linejoin="round">862</text>
<rect x="347.2" y="1116.5" width="60.5" height="66" fill="none" stroke="#111" stroke-width="1.1"/>
<text transform="translate(634.50,1156.20) rotate(0.00) scale(0.9190,1)" x="-1.50" y="0" font-family='"Liberation Sans", sans-serif' font-size="18.31" fill="#000" stroke="#000" stroke-width="0.50" stroke-linejoin="round">RWY 07-25</text>
<text transform="translate(684.00,1175.20) rotate(0.00) scale(0.9165,1)" x="-0.83" y="0" font-family='"Liberation Sans", sans-serif' font-size="18.31" fill="#000" stroke="#000" stroke-width="0.50" stroke-linejoin="round">S-30, D-75</text>
<text transform="translate(634.50,1195.10) rotate(0.00) scale(0.9167,1)" x="-1.50" y="0" font-family='"Liberation Sans", sans-serif' font-size="18.31" fill="#000" stroke="#000" stroke-width="0.50" stroke-linejoin="round">RWY 16-34</text>
<text transform="translate(684.00,1214.10) rotate(0.00) scale(0.9129,1)" x="-0.83" y="0" font-family='"Liberation Sans", sans-serif' font-size="18.31" fill="#000" stroke="#000" stroke-width="0.50" stroke-linejoin="round">S-12.5</text>
<rect x="830.5" y="1147.3" width="158.8" height="67.7" fill="#fff" stroke="#111" stroke-width="1.1"/>
<text transform="translate(837.60,1167.20) rotate(0.00) scale(0.8630,1)" x="-1.50" y="0" font-family='"Liberation Sans", sans-serif' font-size="18.31" fill="#000" stroke="#000" stroke-width="0.52" stroke-linejoin="round">HIRL Rwy 7-25</text>
<ellipse cx="952.5" cy="1160.7" rx="6.7" ry="11" fill="#000"/>
<text transform="translate(950.00,1165.70) rotate(0.00) scale(0.6635,1)" x="-0.96" y="0" font-family='"Liberation Sans", sans-serif' font-size="14.39" font-weight="bold" fill="#fff" stroke="#fff" stroke-width="0.58" stroke-linejoin="round">L</text>
<text transform="translate(837.60,1187.10) rotate(0.00) scale(0.8754,1)" x="-1.50" y="0" font-family='"Liberation Sans", sans-serif' font-size="18.31" fill="#000" stroke="#000" stroke-width="0.51" stroke-linejoin="round">MIRL Rwy 16-34</text>
<text transform="translate(837.60,1207.50) rotate(0.00) scale(0.8546,1)" x="-1.50" y="0" font-family='"Liberation Sans", sans-serif' font-size="18.31" fill="#000" stroke="#000" stroke-width="0.52" stroke-linejoin="round">REIL Rwys 34 and 7</text>
<text transform="translate(724.60,404.70) rotate(70.00) scale(0.9337,1)" x="-1.40" y="0" font-family='"Liberation Sans", sans-serif' font-size="18.31" fill="#000" stroke="#000" stroke-width="0.50" stroke-linejoin="round">165.2°</text>
<text transform="translate(853.10,813.00) rotate(-20.00) scale(0.9435,1)" x="-0.70" y="0" font-family='"Liberation Sans", sans-serif' font-size="18.46" fill="#000" stroke="#000" stroke-width="0.49" stroke-linejoin="round">34</text>
<text transform="translate(907.70,844.70) rotate(-110.00) scale(0.9188,1)" x="-0.93" y="0" font-family='"Liberation Sans", sans-serif' font-size="18.46" fill="#000" stroke="#000" stroke-width="0.50" stroke-linejoin="round">25</text>
<text transform="translate(676.20,486.50) rotate(70.00) scale(0.6820,1)" x="-1.51" y="0" font-family='"Liberation Sans", sans-serif' font-size="18.46" fill="#000" stroke="#000" stroke-width="0.57" stroke-linejoin="round">B</text>
<text transform="translate(770.00,534.90) rotate(70.00) scale(0.9397,1)" x="-0.70" y="0" font-family='"Liberation Sans", sans-serif' font-size="18.46" fill="#000" stroke="#000" stroke-width="0.49" stroke-linejoin="round">3902 X 75</text>
<text transform="translate(749.50,609.20) rotate(-20.00) scale(0.8343,1)" x="-1.51" y="0" font-family='"Liberation Sans", sans-serif' font-size="18.46" fill="#000" stroke="#000" stroke-width="0.52" stroke-linejoin="round">B2</text>
<text transform="translate(842.70,732.50) rotate(70.00) scale(0.9621,1)" x="-0.70" y="0" font-family='"Liberation Sans", sans-serif' font-size="18.46" fill="#000" stroke="#000" stroke-width="0.49" stroke-linejoin="round">345.2°</text>
<text transform="translate(127.10,1114.70) rotate(70.00) scale(1.1260,1)" x="-0.93" y="0" font-family='"Liberation Sans", sans-serif' font-size="18.17" fill="#000" stroke="#000" stroke-width="0.45" stroke-linejoin="round">7</text>
<text transform="translate(167.00,1129.80) rotate(-20.00) scale(0.9798,1)" x="-0.72" y="0" font-family='"Liberation Sans", sans-serif' font-size="18.46" fill="#000" stroke="#000" stroke-width="0.48" stroke-linejoin="round">075.2°</text>
<text transform="translate(128.90,1073.60) rotate(70.00) scale(1.0107,1)" x="-0.04" y="0" font-family='"Liberation Sans", sans-serif' font-size="18.46" fill="#000" stroke="#000" stroke-width="0.48" stroke-linejoin="round">A5</text>
<text transform="translate(178.10,1050.60) rotate(70.00) scale(0.9545,1)" x="-0.04" y="0" font-family='"Liberation Sans", sans-serif' font-size="18.46" fill="#000" stroke="#000" stroke-width="0.49" stroke-linejoin="round">A4</text>
<text transform="translate(471.70,1020.60) rotate(-20.00) scale(0.9345,1)" x="-0.94" y="0" font-family='"Liberation Sans", sans-serif' font-size="18.46" fill="#000" stroke="#000" stroke-width="0.50" stroke-linejoin="round">6005 X 100</text>
<text transform="translate(727.30,930.40) rotate(-20.00) scale(0.9934,1)" x="-0.93" y="0" font-family='"Liberation Sans", sans-serif' font-size="18.46" fill="#000" stroke="#000" stroke-width="0.48" stroke-linejoin="round">255.2°</text>
<text transform="translate(468.70,936.60) rotate(-20.00) scale(0.9477,1)" x="-0.04" y="0" font-family='"Liberation Sans", sans-serif' font-size="18.46" fill="#000" stroke="#000" stroke-width="0.49" stroke-linejoin="round">A</text>
<text transform="translate(273.70,1007.70) rotate(-20.00) scale(0.9477,1)" x="-0.04" y="0" font-family='"Liberation Sans", sans-serif' font-size="18.46" fill="#000" stroke="#000" stroke-width="0.49" stroke-linejoin="round">A</text>
<text transform="translate(696.80,854.30) rotate(-20.00) scale(0.9477,1)" x="-0.04" y="0" font-family='"Liberation Sans", sans-serif' font-size="18.46" fill="#000" stroke="#000" stroke-width="0.49" stroke-linejoin="round">A</text>
<text transform="translate(550.00,919.80) rotate(70.00) scale(0.9623,1)" x="-0.04" y="0" font-family='"Liberation Sans", sans-serif' font-size="18.46" fill="#000" stroke="#000" stroke-width="0.49" stroke-linejoin="round">A2</text>
<text transform="translate(369.80,985.70) rotate(70.00) scale(0.9479,1)" x="-0.04" y="0" font-family='"Liberation Sans", sans-serif' font-size="18.46" fill="#000" stroke="#000" stroke-width="0.49" stroke-linejoin="round">A3</text>
<text transform="translate(803.30,825.80) rotate(70.00) scale(0.8410,1)" x="-0.04" y="0" font-family='"Liberation Sans", sans-serif' font-size="18.46" fill="#000" stroke="#000" stroke-width="0.52" stroke-linejoin="round">A1</text>
<text transform="translate(821.90,809.30) rotate(-20.00) scale(0.7949,1)" x="-1.51" y="0" font-family='"Liberation Sans", sans-serif' font-size="18.46" fill="#000" stroke="#000" stroke-width="0.53" stroke-linejoin="round">B3</text>
<text transform="translate(767.70,738.60) rotate(70.00) scale(0.6820,1)" x="-1.51" y="0" font-family='"Liberation Sans", sans-serif' font-size="18.46" fill="#000" stroke="#000" stroke-width="0.57" stroke-linejoin="round">B</text>
<text transform="translate(665.00,373.50) rotate(-20.00) scale(0.6894,1)" x="-1.51" y="0" font-family='"Liberation Sans", sans-serif' font-size="18.46" fill="#000" stroke="#000" stroke-width="0.57" stroke-linejoin="round">B1</text>
<text transform="translate(698.30,334.90) rotate(160.00) scale(0.9391,1)" x="-1.41" y="0" font-family='"Liberation Sans", sans-serif' font-size="18.46" fill="#000" stroke="#000" stroke-width="0.50" stroke-linejoin="round">16</text>
<circle cx="722.2" cy="364.3" r="12.7" fill="#fff" stroke="#111" stroke-width="1.4"/>
<text transform="translate(721.75,358.40) rotate(160.00) scale(0.7711,1)" x="-1.36" y="0" font-family='"Liberation Sans", sans-serif' font-size="16.57" fill="#000" stroke="#000" stroke-width="0.54" stroke-linejoin="round">P</text>
<circle cx="826.5" cy="773.2" r="12.7" fill="#fff" stroke="#111" stroke-width="1.4"/>
<text transform="translate(826.95,779.10) rotate(-20.00) scale(0.7711,1)" x="-1.36" y="0" font-family='"Liberation Sans", sans-serif' font-size="16.57" fill="#000" stroke="#000" stroke-width="0.54" stroke-linejoin="round">P</text>
<circle cx="806.4" cy="896.1" r="12.7" fill="#fff" stroke="#111" stroke-width="1.4"/>
<text transform="translate(812.30,895.65) rotate(-110.00) scale(0.7711,1)" x="-1.36" y="0" font-family='"Liberation Sans", sans-serif' font-size="16.57" fill="#000" stroke="#000" stroke-width="0.54" stroke-linejoin="round">P</text>
<circle cx="218.5" cy="1061.8" r="12.7" fill="#fff" stroke="#111" stroke-width="1.4"/>
<text transform="translate(212.60,1062.25) rotate(70.00) scale(0.7711,1)" x="-1.36" y="0" font-family='"Liberation Sans", sans-serif' font-size="16.57" fill="#000" stroke="#000" stroke-width="0.54" stroke-linejoin="round">P</text>
<line x1="745.5" y1="450.2" x2="751.43" y2="465.07" stroke="#111" stroke-width="1.1"/>
<path d="M754.4,472.5 L749.02,464.96 L753.11,463.33 Z" fill="#000"/>
<line x1="846.9" y1="724.4" x2="841.18" y2="709.56" stroke="#111" stroke-width="1.1"/>
<path d="M838.3,702.1 L843.59,709.71 L839.49,711.29 Z" fill="#000"/>
<line x1="215.7" y1="1106.7" x2="232.33" y2="1100.35" stroke="#111" stroke-width="1.1"/>
<path d="M239.8,1097.5 L232.18,1102.77 L230.61,1098.65 Z" fill="#000"/>
<line x1="722.4" y1="925.4" x2="707.62" y2="930.77" stroke="#111" stroke-width="1.1"/>
<path d="M700.1,933.5 L707.81,928.36 L709.31,932.5 Z" fill="#000"/>
<line x1="347.2" y1="1116.5" x2="318.9" y2="1065.88" stroke="#111" stroke-width="1.1"/>
<path d="M315,1058.9 L321.31,1065.68 L317.47,1067.83 Z" fill="#000"/>
<line x1="166.7" y1="769.2" x2="148.94" y2="795.01" stroke="#111" stroke-width="1.1"/>
<path d="M144.4,801.6 L147.69,792.94 L151.31,795.43 Z" fill="#000"/>
<line x1="416.6" y1="791.3" x2="441.08" y2="807.15" stroke="#111" stroke-width="1.1"/>
<path d="M447.8,811.5 L439.05,808.46 L441.44,804.76 Z" fill="#000"/>
<line x1="865.9" y1="905.4" x2="834.59" y2="878.78" stroke="#111" stroke-width="1.1"/>
<path d="M828.5,873.6 L836.78,877.75 L833.93,881.11 Z" fill="#000"/>
<polygon points="629.9,691.2 632.02,695.69 636.94,696.31 633.32,699.71 634.25,704.59 629.9,702.2 625.55,704.59 626.48,699.71 622.86,696.31 627.78,695.69" fill="#000"/>
<circle cx="629.9" cy="698.6" r="2.8" fill="#fff"/>
<g transform="translate(154.1,1055) rotate(1)"><path d="M-0.5,-4.9 L20.8,0.3 L-0.5,4.9 Z" fill="#000"/><ellipse cx="0" cy="0" rx="2.5" ry="4.9" fill="#fff" stroke="#000" stroke-width="1.1"/><line x1="-10.1" y1="0.3" x2="-4.5" y2="0.3" stroke="#000" stroke-width="1.25"/><line x1="-8" y1="-4.9" x2="-3.8" y2="-3.0" stroke="#000" stroke-width="1.25"/><line x1="-4.0" y1="-7.8" x2="-1.3" y2="-5.1" stroke="#000" stroke-width="1.25"/><line x1="-7.5" y1="4.6" x2="-3.3" y2="3.0" stroke="#000" stroke-width="1.25"/><line x1="-4.3" y1="7.9" x2="-1.3" y2="5.1" stroke="#000" stroke-width="1.25"/></g>
<g transform="translate(766.5,803) rotate(0.6)"><path d="M-0.5,-4.9 L20.8,0.3 L-0.5,4.9 Z" fill="#000"/><ellipse cx="0" cy="0" rx="2.5" ry="4.9" fill="#fff" stroke="#000" stroke-width="1.1"/><line x1="-10.1" y1="0.3" x2="-4.5" y2="0.3" stroke="#000" stroke-width="1.25"/><line x1="-8" y1="-4.9" x2="-3.8" y2="-3.0" stroke="#000" stroke-width="1.25"/><line x1="-4.0" y1="-7.8" x2="-1.3" y2="-5.1" stroke="#000" stroke-width="1.25"/><line x1="-7.5" y1="4.6" x2="-3.3" y2="3.0" stroke="#000" stroke-width="1.25"/><line x1="-4.3" y1="7.9" x2="-1.3" y2="5.1" stroke="#000" stroke-width="1.25"/></g>
<g transform="translate(681.2,377.5) rotate(173)"><path d="M-0.5,-4.9 L20.8,0.3 L-0.5,4.9 Z" fill="#000"/><ellipse cx="0" cy="0" rx="2.5" ry="4.9" fill="#fff" stroke="#000" stroke-width="1.1"/><line x1="-10.1" y1="0.3" x2="-4.5" y2="0.3" stroke="#000" stroke-width="1.25"/><line x1="-8" y1="-4.9" x2="-3.8" y2="-3.0" stroke="#000" stroke-width="1.25"/><line x1="-4.0" y1="-7.8" x2="-1.3" y2="-5.1" stroke="#000" stroke-width="1.25"/><line x1="-7.5" y1="4.6" x2="-3.3" y2="3.0" stroke="#000" stroke-width="1.25"/><line x1="-4.3" y1="7.9" x2="-1.3" y2="5.1" stroke="#000" stroke-width="1.25"/></g>
<circle cx="885.3" cy="872.6" r="13.3" fill="#000"/>
<circle cx="885.3" cy="857" r="6.6" fill="#fff"/>
<circle cx="885.3" cy="857" r="5.1" fill="#000"/>
<text transform="translate(875.40,876.40) rotate(0.00) scale(0.9577,1)" x="-0.03" y="0" font-family='"Liberation Sans", sans-serif' font-size="17.01" fill="#fff" stroke="#fff" stroke-width="0.20" stroke-linejoin="round">A</text>
<text transform="translate(887.20,881.10) rotate(0.00) scale(0.9444,1)" x="-0.73" y="0" font-family='"Liberation Sans", sans-serif' font-size="18.31" fill="#fff" stroke="#fff" stroke-width="0.21" stroke-linejoin="round">5</text>
<g transform="translate(146.5,1111.8) rotate(-19.980)" stroke="#000" stroke-width="1.35" fill="none">
<line x1="726.5" y1="-5.5" x2="726.5" y2="5.3"/>
<line x1="731.9" y1="-5.5" x2="731.9" y2="5.3"/>
<line x1="737.5" y1="-5.5" x2="737.5" y2="5.3"/>
<line x1="748.3" y1="-5.5" x2="748.3" y2="5.3"/>
<line x1="743.5" y1="-20.6" x2="743.5" y2="-8.5"/><line x1="743.5" y1="-5.7" x2="743.5" y2="5.5"/><line x1="743.5" y1="8.6" x2="743.5" y2="19.2"/>
<line x1="754" y1="-5.5" x2="754" y2="5.7"/><line x1="754" y1="0" x2="759.4" y2="0"/>
<line x1="764.7" y1="0" x2="771.3" y2="0"/><line x1="776.2" y1="0" x2="782.2" y2="0"/><line x1="787.1" y1="0" x2="792" y2="0"/>
</g>
</g>
</svg>
</body></html>
